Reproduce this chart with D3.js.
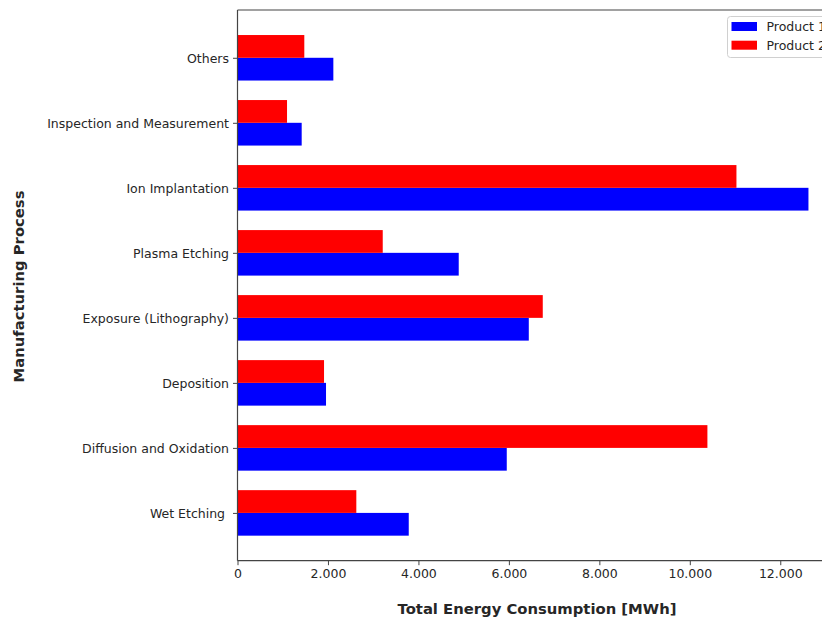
<!DOCTYPE html>
<html>
<head>
<meta charset="utf-8">
<script src="https://cdn.jsdelivr.net/npm/d3@7"></script>
<style>
  html, body { margin: 0; padding: 0; background: #fff; }
  svg { display: block; }
  text { font-family: "DejaVu Sans", sans-serif; fill: #262626; }
</style>
</head>
<body>
<svg id="chart" width="822" height="619"></svg>
<script>
// ---- data ----
const categories = [
  "Wet Etching\u00a0",
  "Diffusion and Oxidation",
  "Deposition",
  "Exposure (Lithography)",
  "Plasma Etching",
  "Ion Implantation",
  "Inspection and Measurement",
  "Others"
];
const product1 = [3786, 5953, 1957, 6440, 4891, 12623, 1419, 2119];
const product2 = [2627, 10389, 1913, 6749, 3211, 11031, 1095, 1477];
const seriesNames = ["Product 1", "Product 2"];
const seriesColors = ["#0000ff", "#ff0000"];
const xTicks = [0, 2000, 4000, 6000, 8000, 10000, 12000];
const xLabel = "Total Energy Consumption [MWh]";
const yLabel = "Manufacturing Process";

// ---- layout ----
const svg = d3.select("#chart");
const plot = { left: 237.5, right: 837, top: 10, bottom: 560.7 };
const barW = 0.35;
const n = categories.length;
const xMax = d3.max([...product1, ...product2]) * 1.05;
const yPad = ((n - 1) + 2 * barW) * 0.05;

const x = d3.scaleLinear().domain([0, xMax]).range([plot.left, plot.right]);
const y = d3.scaleLinear().domain([-barW - yPad, (n - 1) + barW + yPad]).range([plot.bottom, plot.top]);

const locale = d3.formatLocale({ decimal: ",", thousands: ".", grouping: [3], currency: ["", ""] });
const fmt = locale.format(",d");

// bars
const series = [product1, product2];
series.forEach((vals, s) => {
  const offset = s === 0 ? -barW / 2 : barW / 2;
  svg.append("g").selectAll("rect").data(vals).join("rect")
    .attr("x", x(0))
    .attr("y", (d, i) => y(i + offset + barW / 2))
    .attr("width", d => x(d) - x(0))
    .attr("height", y(0) - y(barW))
    .attr("fill", seriesColors[s]);
});

// axes
const xAxis = d3.axisBottom(x).tickValues(xTicks).tickFormat(fmt).tickSize(4.5).tickPadding(4);
const gx = svg.append("g").attr("transform", `translate(0,${plot.bottom})`).call(xAxis);
gx.select(".domain").remove();
gx.selectAll("line").attr("stroke", "#444").attr("stroke-width", 1);
gx.selectAll("text").attr("font-size", 12.5).attr("fill", "#262626");

const yAxis = d3.axisLeft(y).tickValues(d3.range(n)).tickFormat(i => categories[i]).tickSize(4.5).tickPadding(4);
const gy = svg.append("g").attr("transform", `translate(${plot.left},0)`).call(yAxis);
gy.select(".domain").remove();
gy.selectAll("line").attr("stroke", "#444").attr("stroke-width", 1);
gy.selectAll("text").attr("font-size", 12.5).attr("fill", "#262626").attr("dy", "0.4em").style("white-space", "pre");

// spines
svg.append("line").attr("x1", plot.left).attr("x2", plot.right).attr("y1", plot.top).attr("y2", plot.top).attr("stroke", "#444").attr("stroke-width", 1.2);
svg.append("line").attr("x1", plot.left).attr("x2", plot.right).attr("y1", plot.bottom).attr("y2", plot.bottom).attr("stroke", "#444").attr("stroke-width", 1.2);
svg.append("line").attr("x1", plot.left).attr("x2", plot.left).attr("y1", plot.top).attr("y2", plot.bottom).attr("stroke", "#444").attr("stroke-width", 1.2);
svg.append("line").attr("x1", plot.right).attr("x2", plot.right).attr("y1", plot.top).attr("y2", plot.bottom).attr("stroke", "#444").attr("stroke-width", 1.2);

// axis labels
svg.append("text").attr("x", 537).attr("y", 613.5).attr("text-anchor", "middle")
  .attr("font-size", 14.8).attr("font-weight", "bold").attr("fill", "#111").text(xLabel);
svg.append("text").attr("transform", "translate(23.5,286.5) rotate(-90)").attr("text-anchor", "middle")
  .attr("font-size", 14.8).attr("font-weight", "bold").attr("fill", "#111").text(yLabel);

// legend
const lg = svg.append("g").attr("transform", "translate(727.5,16.5)");
lg.append("rect").attr("width", 120).attr("height", 41).attr("rx", 3)
  .attr("fill", "#fff").attr("stroke", "#d0d0d0").attr("stroke-width", 1);
seriesNames.forEach((name, i) => {
  lg.append("rect").attr("x", 4).attr("y", 5.5 + i * 18.7).attr("width", 25.5).attr("height", 9)
    .attr("fill", seriesColors[i]);
  lg.append("text").attr("x", 39).attr("y", 14.5 + i * 18.7).attr("font-size", 12.5)
    .attr("fill", "#262626").text(name);
});
</script>
</body>
</html>
